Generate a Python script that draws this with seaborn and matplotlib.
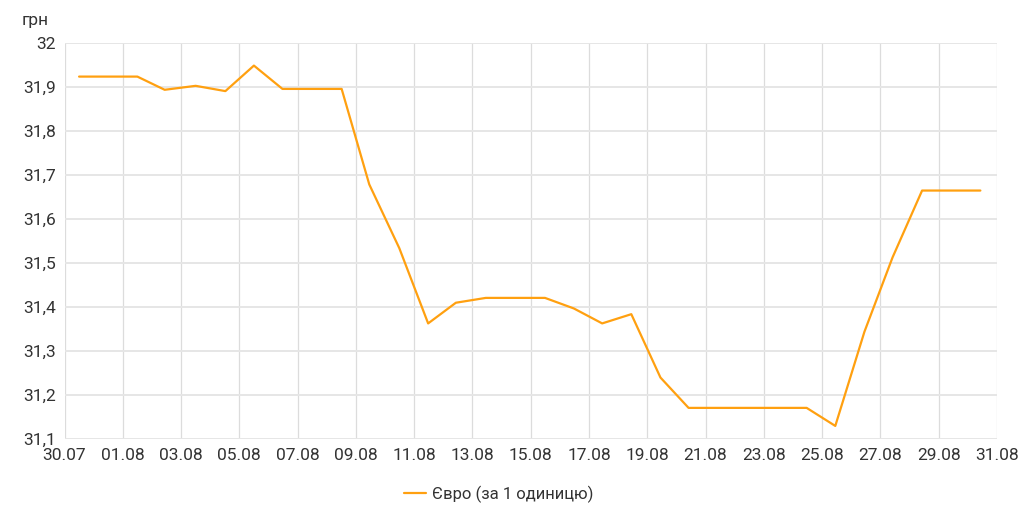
import pandas as pd
import numpy as np
import seaborn as sns
import matplotlib
matplotlib.use("Agg")
import matplotlib.pyplot as plt
import matplotlib.dates as mdates
from matplotlib.ticker import FuncFormatter, MultipleLocator

# daily EUR rate (timestamps around midday)
dates = [
    "2021-07-30 12:00", "2021-07-31 12:00", "2021-08-01 12:00", "2021-08-02 10:30",
    "2021-08-03 12:00", "2021-08-04 12:30", "2021-08-05 12:00", "2021-08-06 11:30",
    "2021-08-07 12:00", "2021-08-08 12:15", "2021-08-09 11:00", "2021-08-10 11:45",
    "2021-08-11 11:30", "2021-08-12 10:20", "2021-08-13 11:00", "2021-08-14 12:00",
    "2021-08-15 11:45", "2021-08-16 11:30", "2021-08-17 10:50", "2021-08-18 10:50",
    "2021-08-19 10:50", "2021-08-20 10:00", "2021-08-21 10:00", "2021-08-22 10:00",
    "2021-08-23 10:00", "2021-08-24 11:15", "2021-08-25 10:50", "2021-08-26 10:50",
    "2021-08-27 10:00", "2021-08-28 10:20", "2021-08-29 10:20", "2021-08-30 10:20",
]
eur_rate = [
    31.923, 31.923, 31.923, 31.893,
    31.902, 31.890, 31.948, 31.895,
    31.895, 31.895, 31.678, 31.533,
    31.362, 31.409, 31.420, 31.420,
    31.420, 31.396, 31.362, 31.383,
    31.239, 31.170, 31.170, 31.170,
    31.170, 31.170, 31.129, 31.343,
    31.512, 31.664, 31.664, 31.664,
]
series_name = "Євро (за 1 одиницю)"
y_unit = "грн"

df = pd.DataFrame({"time": pd.to_datetime(dates), "rate": eur_rate})

sns.set_style("whitegrid")
plt.rcParams["font.family"] = ["Roboto", "DejaVu Sans"]

fig = plt.figure(figsize=(10.24, 5.3), dpi=100)
ax = fig.add_axes([0.063, 0.1723, 0.9106, 0.7471])

line_color = "#ffa010"
sns.lineplot(data=df, x="time", y="rate", ax=ax, color=line_color,
             linewidth=1.6, label=series_name)

ax.set_xlim(pd.Timestamp("2021-07-30"), pd.Timestamp("2021-08-31"))
ax.set_ylim(31.1, 32.0)
ax.xaxis.set_major_locator(mdates.DayLocator(interval=2, tz=None))
ax.set_xticks(pd.date_range("2021-07-30", "2021-08-31", freq="2D"))
ax.xaxis.set_major_formatter(mdates.DateFormatter("%d.%m"))
ax.yaxis.set_major_locator(MultipleLocator(0.1))
ax.yaxis.set_major_formatter(FuncFormatter(lambda v, p: f"{round(v, 1):g}".replace(".", ",")))

ax.set_xlabel("")
ax.set_ylabel("")
for s in ax.spines.values():
    s.set_visible(False)
ax.grid(True, axis="y", color="#e6e6e6", linewidth=1.4)
ax.grid(True, axis="x", color="#dcdcdc", linewidth=0.9)
ax.tick_params(axis="both", length=0, labelsize=12.5, colors="#333333")
ax.tick_params(axis="x", pad=7)
ax.tick_params(axis="y", pad=6)

fig.text(0.021, 0.962, y_unit, fontsize=12.5, color="#333333", va="center")

ax.get_legend().remove()
handles, labels = ax.get_legend_handles_labels()
fig.legend(handles, labels, loc="center", bbox_to_anchor=(0.487, 0.068),
           frameon=False, fontsize=12, handlelength=1.3, handletextpad=0.4,
           labelcolor="#333333")

fig.savefig("out.png", dpi=100, facecolor="white")
